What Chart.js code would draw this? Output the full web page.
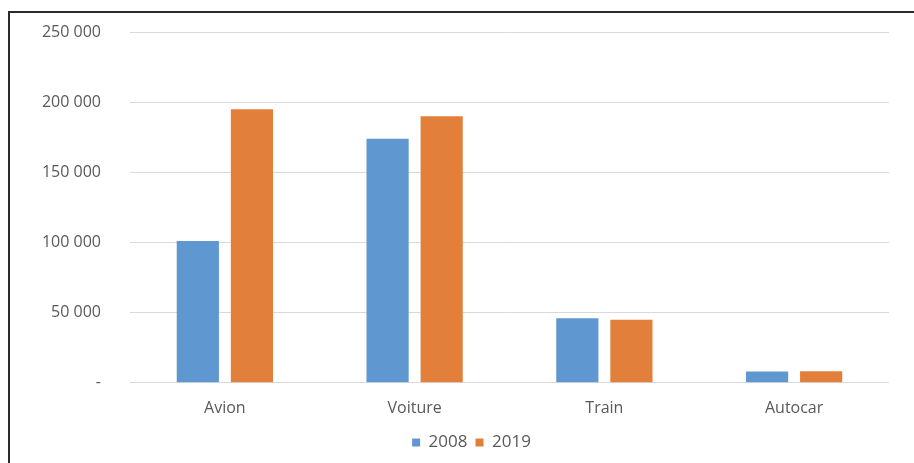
<!DOCTYPE html>
<html>
<head>
<meta charset="utf-8">
<script src="https://cdn.jsdelivr.net/npm/chart.js@4"></script>
<style>
  html, body { margin: 0; padding: 0; background: #fff; }
  #wrap { position: relative; width: 914px; height: 463px; }
  #frame { position: absolute; left: 8px; top: 11px; right: -4px; bottom: -4px;
           border-top: 2px solid #2b2b2b; border-left: 2px solid #2b2b2b; pointer-events: none; }
  canvas { position: absolute; left: 0; top: 0; }
</style>
</head>
<body>
<div id="wrap">
  <canvas id="transportChart" width="914" height="463"></canvas>
  <div id="frame"></div>
</div>
<script>
const categories = ["Avion", "Voiture", "Train", "Autocar"];
const values2008 = [101000, 174000, 46000, 8000];
const values2019 = [195000, 190000, 45000, 8300];
const yTicks = [0, 50000, 100000, 150000, 200000, 250000];

const fmt = (v) => (v === 0 ? "-" : v.toLocaleString("fr-FR").replace(/\u202f|\u00a0/g, " "));

const ctx = document.getElementById("transportChart");
const labelFont = { family: "Open Sans", size: 16 };

// legend sits a bit right of the canvas centre in the original
const shiftLegend = {
  id: "shiftLegend",
  afterLayout(chart) {
    chart.legend.left += 27;
    chart.legend.right += 27;
  },
};

new Chart(ctx, {
  type: "bar",
  data: {
    labels: categories,
    datasets: [
      {
        label: "2008",
        data: values2008,
        backgroundColor: "#5f98d0",
        categoryPercentage: 0.57,
        barPercentage: 0.78,
      },
      {
        label: "2019",
        data: values2019,
        backgroundColor: "#e27f3a",
        categoryPercentage: 0.57,
        barPercentage: 0.78,
      },
    ],
  },
  options: {
    responsive: false,
    animation: false,
    layout: { padding: { top: 32, right: 25, bottom: 2, left: 0 } },
    plugins: {
      tooltip: { enabled: false },
      legend: {
        position: "bottom",
        labels: {
          boxWidth: 8,
          boxHeight: 8,
          padding: 8,
          color: "#595959",
          font: { family: "Open Sans", size: 17 },
        },
      },
    },
    scales: {
      x: {
        grid: { display: false },
        border: { display: false },
        ticks: {
          color: "#595959",
          padding: 8,
          font: labelFont,
        },
      },
      y: {
        min: 0,
        max: 250000,
        afterBuildTicks: (scale) => {
          scale.ticks = yTicks.map((v) => ({ value: v }));
        },
        afterFit: (scale) => {
          scale.width = 130;
        },
        grid: { color: "#d9d9d9", drawTicks: true, tickLength: 29, tickColor: "transparent" },
        border: { display: false },
        ticks: {
          color: "#595959",
          padding: 0,
          font: labelFont,
          callback: (v) => fmt(v),
        },
      },
    },
  },
  plugins: [shiftLegend],
});
</script>
</body>
</html>
